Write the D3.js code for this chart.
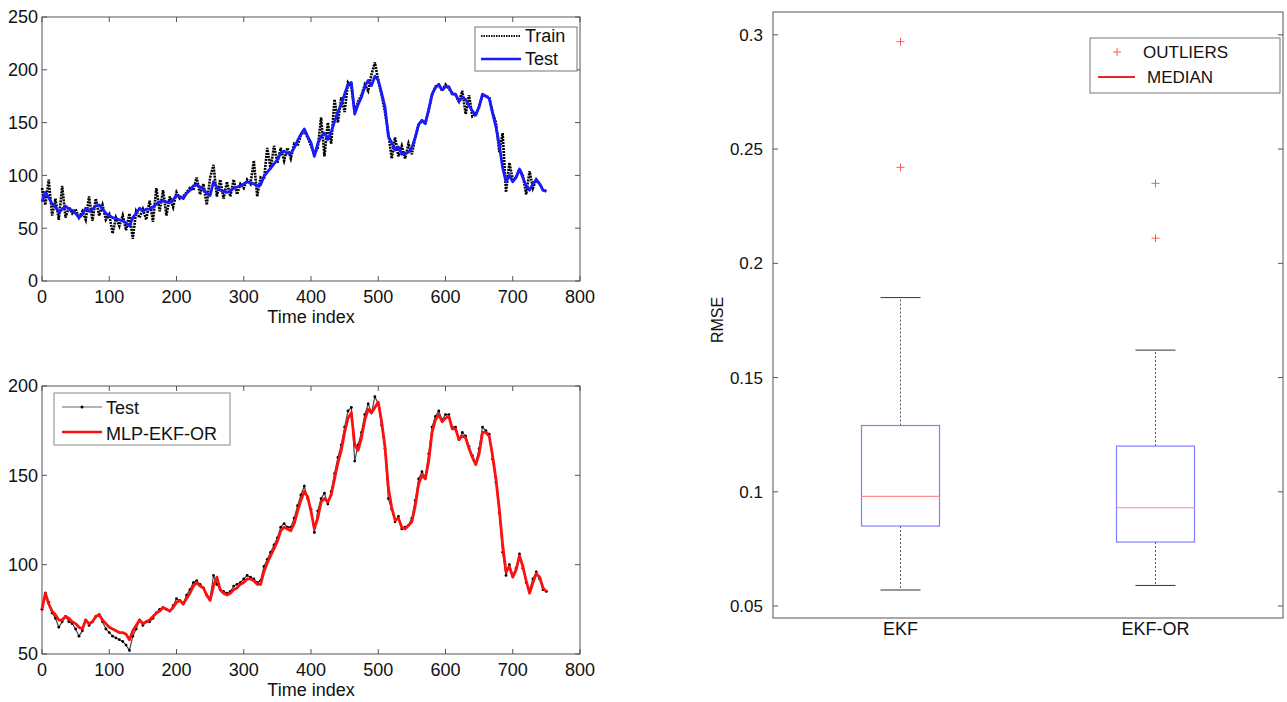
<!DOCTYPE html>
<html>
<head>
<meta charset="utf-8">
<script src="https://cdn.jsdelivr.net/npm/d3@7"></script>
<style>
  html, body { margin: 0; padding: 0; background: #fff; }
  svg { display: block; font-family: "Liberation Sans", Arial, sans-serif; }
</style>
</head>
<body>
<svg id="chart" width="1287" height="702"></svg>
<script>
// sampled every 5 time steps, t = 0 .. 750
const timeStep = 5;
const testSeries = [
  75, 84, 79, 73, 70, 65, 68, 71, 68, 67, 64, 60, 63, 69, 66, 68, 71, 72, 68, 64,
  62, 60, 59, 58, 57, 55, 52, 60, 64, 69, 66, 68, 68, 70, 73, 75, 76, 75, 74, 77,
  81, 80, 78, 83, 86, 90, 91, 89, 87, 83, 81, 94, 89, 86, 85, 84, 85, 88, 89, 90,
  92, 94, 93, 92, 90, 91, 99, 103, 107, 111, 115, 121, 123, 121, 121, 126, 133, 139, 144, 137,
  131, 118, 130, 137, 140, 134, 141, 151, 160, 167, 177, 186, 188, 158, 167, 174, 184, 190, 185, 194,
  190, 178, 165, 137, 131, 124, 127, 120, 121, 122, 126, 136, 148, 152, 149, 162, 177, 183, 186, 181,
  184, 184, 177, 177, 170, 174, 172, 166, 161, 157, 165, 177, 175, 173, 159, 146, 129, 107, 94, 100,
  94, 98, 106, 98, 90, 86, 92, 96, 92, 86, 85
];
const trainSeries = [
  88, 72, 96, 62, 78, 58, 90, 60, 70, 64, 68, 60, 66, 58, 80, 57, 78, 62, 72, 58,
  63, 45, 60, 52, 62, 48, 64, 40, 66, 60, 68, 58, 76, 56, 88, 66, 86, 62, 80, 70,
  84, 78, 80, 84, 88, 86, 98, 82, 92, 72, 98, 110, 80, 96, 78, 94, 80, 96, 82, 92,
  88, 96, 92, 114, 80, 98, 96, 126, 106, 128, 112, 126, 114, 126, 116, 130, 128, 138, 142, 136,
  128, 120, 126, 155, 118, 150, 130, 172, 150, 174, 160, 188, 184, 160, 170, 176, 186, 180, 196, 207,
  190, 176, 160, 140, 116, 136, 118, 128, 116, 130, 120, 136, 148, 152, 150, 162, 176, 184, 186, 180,
  186, 182, 178, 176, 170, 180, 158, 176, 156, 158, 165, 176, 175, 174, 160, 150, 122, 140, 84, 112,
  96, 98, 106, 100, 82, 104, 88, 96, 92, 86, 85
];
const mlpSeries = [
  75, 84, 78, 74, 72, 69, 69, 71, 70, 68, 67, 65, 64, 69, 67, 68, 71, 72, 69, 67,
  65, 64, 63, 62, 62, 61, 58, 63, 66, 69, 67, 68, 69, 71, 73, 74, 76, 75, 74, 76,
  79, 80, 78, 81, 84, 88, 90, 88, 87, 83, 80, 88, 93, 86, 84, 83, 84, 86, 87, 89,
  90, 92, 92, 91, 89, 89, 96, 101, 105, 109, 113, 119, 121, 120, 119, 123, 130, 136, 141, 138,
  130, 120, 126, 135, 137, 135, 139, 148, 157, 164, 174, 182, 185, 167, 164, 171, 181, 187, 185, 188,
  191, 180, 166, 143, 132, 125, 126, 121, 120, 122, 124, 133, 145, 150, 148, 158, 174, 181, 184, 180,
  182, 183, 176, 176, 170, 172, 171, 165, 160, 156, 162, 174, 174, 172, 161, 148, 131, 111, 96, 99,
  93, 97, 105, 99, 91, 84, 90, 95, 93, 87, 85
];
const xTicks = [0, 100, 200, 300, 400, 500, 600, 700, 800];
const topYTicks = [0, 50, 100, 150, 200, 250];
const bottomYTicks = [50, 100, 150, 200];

const boxNames = ['EKF', 'EKF-OR'];
const boxQ1 = [0.085, 0.078];
const boxMedian = [0.098, 0.093];
const boxQ3 = [0.129, 0.120];
const whiskerLow = [0.057, 0.059];
const whiskerHigh = [0.185, 0.162];
const outliers = [[0.297, 0.242], [0.235, 0.211]];
const rmseTicks = [0.05, 0.1, 0.15, 0.2, 0.25, 0.3];

const svg = d3.select('#chart');

const drawFrame = (g, x, y, yTicks, xTickList) => {
  const [x0, x1] = x.range();
  const [y0, y1] = y.range();
  g.append('rect')
    .attr('x', x0).attr('y', y1)
    .attr('width', x1 - x0).attr('height', y0 - y1)
    .attr('fill', 'none').attr('stroke', '#555').attr('stroke-width', 1);
  const tickLen = 5;
  yTicks.forEach(v => {
    g.append('line').attr('x1', x0).attr('x2', x0 + tickLen)
      .attr('y1', y(v)).attr('y2', y(v)).attr('stroke', '#555');
    g.append('line').attr('x1', x1).attr('x2', x1 - tickLen)
      .attr('y1', y(v)).attr('y2', y(v)).attr('stroke', '#555');
  });
  (xTickList || []).forEach(v => {
    g.append('line').attr('x1', x(v)).attr('x2', x(v))
      .attr('y1', y0).attr('y2', y0 - tickLen).attr('stroke', '#555');
    g.append('line').attr('x1', x(v)).attr('x2', x(v))
      .attr('y1', y1).attr('y2', y1 + tickLen).attr('stroke', '#555');
  });
};

const drawSeriesPanel = (box, yDomain, yTicks) => {
  const g = svg.append('g');
  const x = d3.scaleLinear().domain([0, 800]).range([box.left, box.right]);
  const y = d3.scaleLinear().domain(yDomain).range([box.bottom, box.top]);
  drawFrame(g, x, y, yTicks, xTicks);
  g.selectAll('.ylab').data(yTicks).enter().append('text')
    .attr('x', box.left - 4).attr('y', d => y(d))
    .attr('dy', '0.36em').attr('text-anchor', 'end')
    .attr('font-size', 18).attr('fill', '#111')
    .text(d => d);
  g.selectAll('.xlab').data(xTicks).enter().append('text')
    .attr('x', d => x(d)).attr('y', box.bottom + 22)
    .attr('text-anchor', 'middle')
    .attr('font-size', 18).attr('fill', '#111')
    .text(d => d);
  g.append('text')
    .attr('x', (box.left + box.right) / 2).attr('y', box.bottom + 42)
    .attr('text-anchor', 'middle').attr('font-size', 18).attr('fill', '#111')
    .text('Time index');
  return { g, x, y };
};

const lineOf = (x, y) => d3.line()
  .x((d, i) => x(i * timeStep))
  .y(d => y(d));

// top panel: train vs test
const topPanel = drawSeriesPanel({ left: 42, right: 580, top: 17, bottom: 281 }, [0, 250], topYTicks);
topPanel.g.append('path')
  .attr('d', lineOf(topPanel.x, topPanel.y)(trainSeries))
  .attr('fill', 'none').attr('stroke', '#000')
  .attr('stroke-width', 2.6).attr('stroke-dasharray', '2,1');
topPanel.g.append('path')
  .attr('d', lineOf(topPanel.x, topPanel.y)(testSeries))
  .attr('fill', 'none').attr('stroke', '#1a1aff')
  .attr('stroke-width', 2.8).attr('stroke-linejoin', 'round');

const topLegend = topPanel.g.append('g');
topLegend.append('rect')
  .attr('x', 475).attr('y', 27).attr('width', 102).attr('height', 44)
  .attr('fill', '#fff').attr('stroke', '#777');
topLegend.append('line')
  .attr('x1', 481).attr('x2', 521).attr('y1', 36).attr('y2', 36)
  .attr('stroke', '#111').attr('stroke-width', 2).attr('stroke-dasharray', '1.5,1');
topLegend.append('line')
  .attr('x1', 481).attr('x2', 521).attr('y1', 59).attr('y2', 59)
  .attr('stroke', '#1a1aff').attr('stroke-width', 2.6);
topLegend.append('text').attr('x', 525).attr('y', 42)
  .attr('font-size', 18).attr('fill', '#111').text('Train');
topLegend.append('text').attr('x', 525).attr('y', 65)
  .attr('font-size', 18).attr('fill', '#111').text('Test');

// bottom panel: test vs MLP-EKF-OR
const bottomPanel = drawSeriesPanel({ left: 42, right: 580, top: 386, bottom: 654 }, [50, 200], bottomYTicks);
bottomPanel.g.append('path')
  .attr('d', lineOf(bottomPanel.x, bottomPanel.y)(testSeries))
  .attr('fill', 'none').attr('stroke', '#444').attr('stroke-width', 1.2);
bottomPanel.g.selectAll('.dot').data(testSeries).enter().append('circle')
  .attr('cx', (d, i) => bottomPanel.x(i * timeStep))
  .attr('cy', d => bottomPanel.y(d))
  .attr('r', 1.4).attr('fill', '#000');
bottomPanel.g.append('path')
  .attr('d', lineOf(bottomPanel.x, bottomPanel.y)(mlpSeries))
  .attr('fill', 'none').attr('stroke', '#ff1010')
  .attr('stroke-width', 2.8).attr('stroke-linejoin', 'round');

const bottomLegend = bottomPanel.g.append('g');
bottomLegend.append('rect')
  .attr('x', 54).attr('y', 393).attr('width', 176).attr('height', 52)
  .attr('fill', '#fff').attr('stroke', '#888');
bottomLegend.append('line')
  .attr('x1', 62).attr('x2', 102).attr('y1', 407).attr('y2', 407)
  .attr('stroke', '#999').attr('stroke-width', 1.5);
bottomLegend.append('circle').attr('cx', 82).attr('cy', 407).attr('r', 1.5).attr('fill', '#000');
bottomLegend.append('line')
  .attr('x1', 62).attr('x2', 102).attr('y1', 432).attr('y2', 432)
  .attr('stroke', '#ff1010').attr('stroke-width', 2.6);
bottomLegend.append('text').attr('x', 106).attr('y', 414)
  .attr('font-size', 18).attr('fill', '#111').text('Test');
bottomLegend.append('text').attr('x', 106).attr('y', 440)
  .attr('font-size', 18).attr('fill', '#111').text('MLP-EKF-OR');

// right panel: RMSE box plot
const bp = svg.append('g');
const bx = d3.scalePoint().domain(boxNames).range([773, 1283]).padding(0.5);
const by = d3.scaleLinear().domain([0.04475, 0.31]).range([618, 12]);
drawFrame(bp, d3.scaleLinear().range([773, 1283]), by, rmseTicks, []);
bp.selectAll('.ylab').data(rmseTicks).enter().append('text')
  .attr('x', 763).attr('y', d => by(d)).attr('dy', '0.36em')
  .attr('text-anchor', 'end').attr('font-size', 17).attr('fill', '#111')
  .text(d => d);
bp.selectAll('.xlab').data(boxNames).enter().append('text')
  .attr('x', d => bx(d)).attr('y', 635)
  .attr('text-anchor', 'middle').attr('font-size', 18).attr('fill', '#111')
  .text(d => d);
bp.append('text')
  .attr('transform', 'translate(723,320) rotate(-90)')
  .attr('text-anchor', 'middle').attr('font-size', 16).attr('fill', '#111')
  .text('RMSE');

const boxW = 78;
const capW = 40;
boxNames.forEach((name, i) => {
  const cx = bx(name);
  bp.append('line')
    .attr('x1', cx).attr('x2', cx).attr('y1', by(boxQ3[i])).attr('y2', by(whiskerHigh[i]))
    .attr('stroke', '#333').attr('stroke-width', 0.8).attr('stroke-dasharray', '2,2');
  bp.append('line')
    .attr('x1', cx).attr('x2', cx).attr('y1', by(boxQ1[i])).attr('y2', by(whiskerLow[i]))
    .attr('stroke', '#333').attr('stroke-width', 0.8).attr('stroke-dasharray', '2,2');
  [whiskerHigh[i], whiskerLow[i]].forEach(v => {
    bp.append('line')
      .attr('x1', cx - capW / 2).attr('x2', cx + capW / 2)
      .attr('y1', by(v)).attr('y2', by(v))
      .attr('stroke', '#333').attr('stroke-width', 1);
  });
  bp.append('rect')
    .attr('x', cx - boxW / 2).attr('y', by(boxQ3[i]))
    .attr('width', boxW).attr('height', by(boxQ1[i]) - by(boxQ3[i]))
    .attr('fill', 'none').attr('stroke', '#7f7fff').attr('stroke-width', 1.2);
  bp.append('line')
    .attr('x1', cx - boxW / 2).attr('x2', cx + boxW / 2)
    .attr('y1', by(boxMedian[i])).attr('y2', by(boxMedian[i]))
    .attr('stroke', '#ff8f8f').attr('stroke-width', 1.2);
  bp.selectAll(`.out-${i}`).data(outliers[i]).enter().append('path')
    .attr('d', d => `M${cx - 4},${by(d)}H${cx + 4}M${cx},${by(d) - 4}V${by(d) + 4}`)
    .attr('stroke', '#ff5a5a').attr('stroke-width', 1);
});

const bpLegend = bp.append('g');
bpLegend.append('rect')
  .attr('x', 1090).attr('y', 38).attr('width', 190).attr('height', 55)
  .attr('fill', '#fff').attr('stroke', '#777');
bpLegend.append('path')
  .attr('d', 'M1113,52H1121M1117,48V56')
  .attr('stroke', '#ff5a5a').attr('stroke-width', 1);
bpLegend.append('line')
  .attr('x1', 1098).attr('x2', 1135).attr('y1', 77).attr('y2', 77)
  .attr('stroke', '#e8242a').attr('stroke-width', 2);
bpLegend.append('text').attr('x', 1143).attr('y', 58)
  .attr('font-size', 17).attr('fill', '#111').text('OUTLIERS');
bpLegend.append('text').attr('x', 1147).attr('y', 83)
  .attr('font-size', 17).attr('fill', '#111').text('MEDIAN');
</script>
</body>
</html>
